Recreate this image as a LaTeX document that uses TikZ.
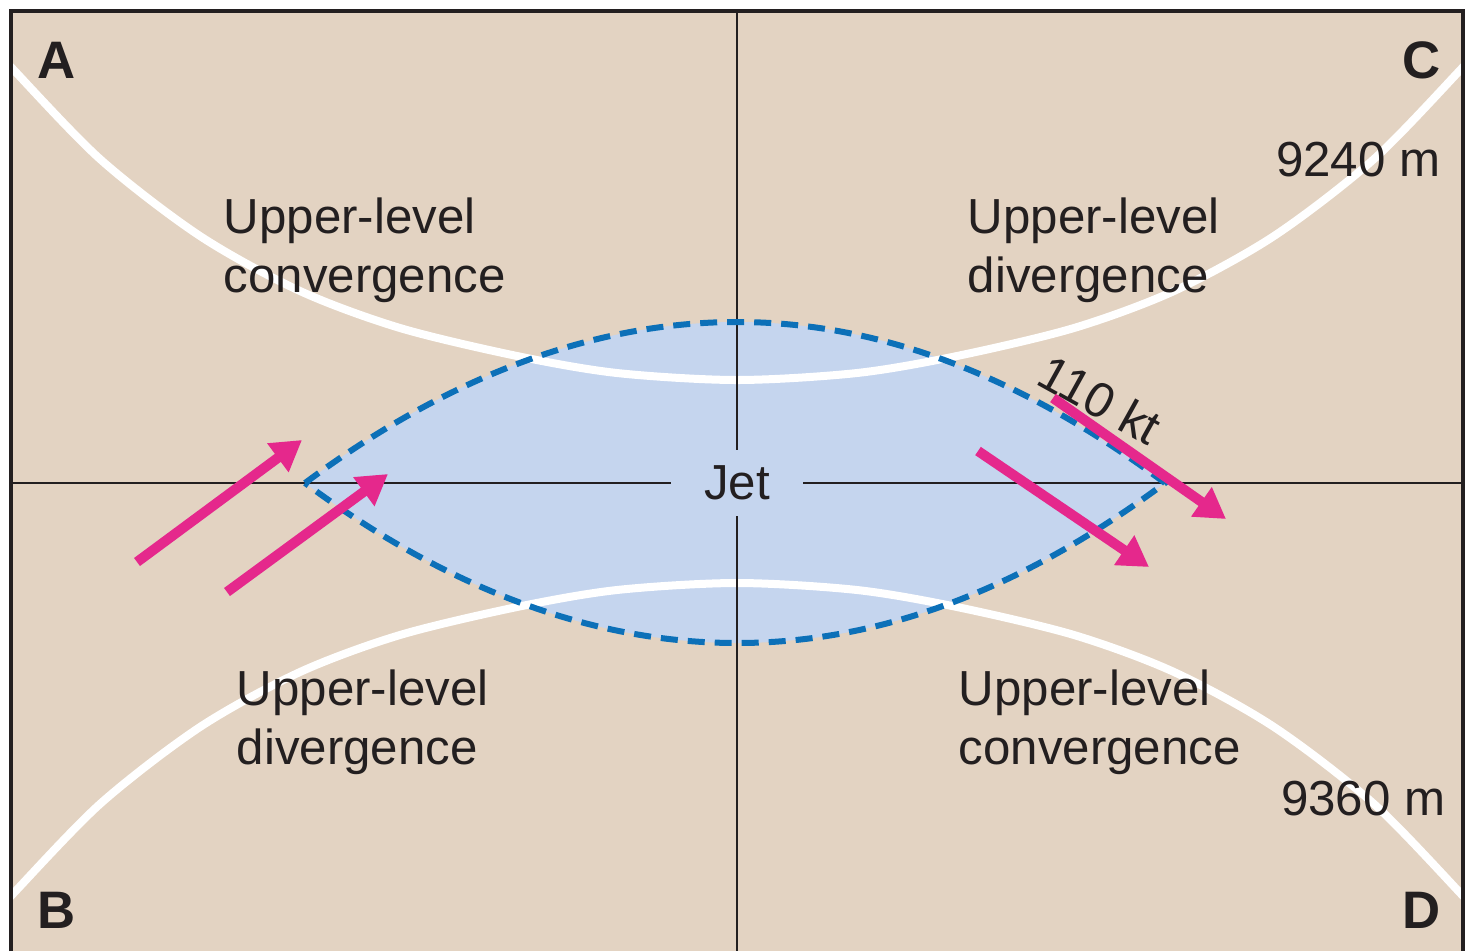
\documentclass[tikz,border=0pt]{standalone}
\usepackage{fontspec}
\setmainfont{Liberation Sans}
\usepackage{tikz}
\usetikzlibrary{arrows.meta, calc}

\definecolor{sand}{RGB}{227,211,194}
\definecolor{jetblue}{RGB}{197,213,238}
\definecolor{dashblue}{RGB}{12,112,184}
\definecolor{windpink}{RGB}{229,40,140}
\definecolor{ink}{RGB}{35,31,32}

\begin{document}
\begin{tikzpicture}[x=0.01cm, y=-0.01cm,
    txt/.style={font=\fontsize{14}{16.8}\selectfont, text=ink, inner sep=0pt, align=left},
    corner/.style={font=\fontsize{15}{18}\selectfont\bfseries, text=ink, inner sep=0pt},
    axis/.style={ink, line width=0.7pt},
    contour/.style={white, line width=0.08cm},
    windarrow/.style={windpink, line width=0.1cm, -{Triangle[length=0.3cm, width=0.34cm]}}]
  \useasboundingbox (0,0) rectangle (1470,951);

  % Map background
  \fill[sand] (11,11) rectangle (1463,951);

  % Jet core (lens)
  \fill[jetblue] (305,483) .. controls (449,376) and (594,322) .. (737,322)
    .. controls (880,322) and (1021,376) .. (1165,483)
    .. controls (1021,590) and (880,643) .. (737,643)
    .. controls (594,643) and (449,590) .. (305,483) -- cycle;

  % Height contours
  \begin{scope}
    \clip (11,11) rectangle (1463,951);
    \draw[contour] plot[smooth] coordinates {(-3,52) (10,66) (100,159) (200,236) (300,291) (400,328) (517,356) (617,373) (737,380) (857,373) (957,356) (1074,328) (1174,291) (1274,236) (1374,159) (1464,66) (1477,52)};
    \draw[contour] plot[smooth] coordinates {(-3,911) (10,897) (100,804) (200,727) (300,672) (400,635) (517,607) (617,590) (737,583) (857,590) (957,607) (1074,635) (1174,672) (1274,727) (1374,804) (1464,897) (1477,911)};
  \end{scope}

  % Axes through the jet
  \node[txt, minimum width=1.31cm, minimum height=0.65cm] (jet) at (737,483) {Jet};
  \coordinate (west) at (11,483);
  \coordinate (east) at (1463,483);
  \coordinate (north) at (737,11);
  \coordinate (south) at (737,951);
  \draw[axis] (west) -- (jet.west);
  \draw[axis] (jet.east) -- (east);
  \draw[axis] (north) -- (jet.north);
  \draw[axis] (jet.south) -- (south);

  % Dashed jet outline
  \draw[dashblue, line width=0.06cm, dash pattern=on 0.17cm off 0.1cm]
    (305,483) .. controls (449,376) and (594,322) .. (737,322)
    .. controls (880,322) and (1021,376) .. (1165,483)
    .. controls (1021,590) and (880,643) .. (737,643)
    .. controls (594,643) and (449,590) .. (305,483) -- cycle;

  % Frame
  \draw[ink, line width=0.9pt] (11,951) -- (11,11) -- (1463,11) -- (1463,951);

  % Corner letters
  \node[corner] (cA) at (57,60) {A};
  \node[corner] (cC) at (1422,60) {C};
  \node[corner] (cB) at (57,910) {B};
  \node[corner] (cD) at (1422,910) {D};

  % Quadrant labels
  \node[txt, anchor=north west] (ulc) at (223,197) {Upper-level\\convergence};
  \node[txt, anchor=north west] (uld) at (967,197) {Upper-level\\divergence};
  \node[txt, anchor=north west] (lld) at (236,669) {Upper-level\\divergence};
  \node[txt, anchor=north west] (llc) at (958,669) {Upper-level\\convergence};

  % Contour heights
  \node[txt, anchor=base east] (h1) at (1441,176) {9240 m};
  \node[txt, anchor=base east] (h2) at (1446,815) {9360 m};

  % Jet speed
  \node[txt, anchor=base west, rotate=-29] (speed) at (1034,383) {110 kt};

  % Wind arrows
  \foreach \xa/\ya/\xb/\yb in {137/562/302/440, 227/592/388/474, 1053/398/1226/519, 978/451/1149/567} {
    \draw[windarrow] (\xa,\ya) -- (\xb,\yb);
  }
\end{tikzpicture}
\end{document}
